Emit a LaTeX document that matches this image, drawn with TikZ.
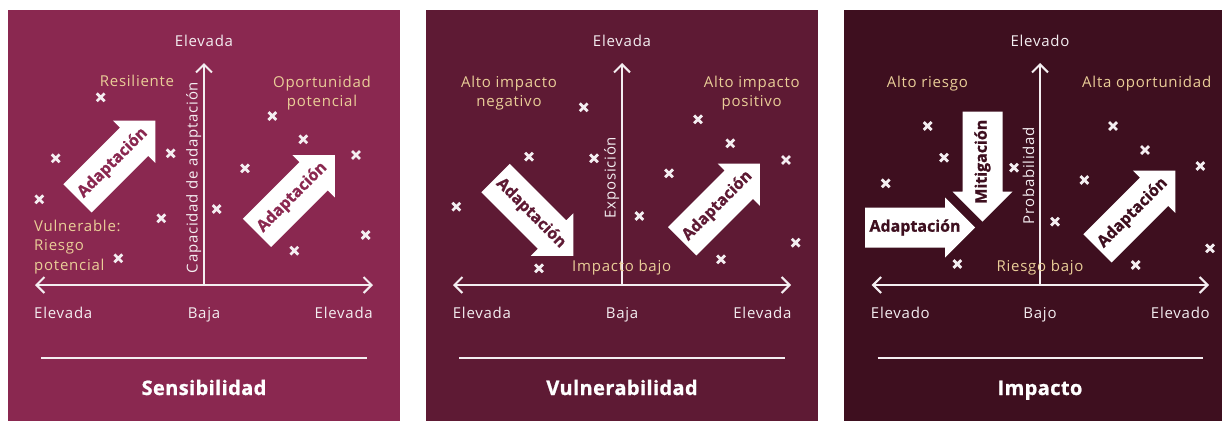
\documentclass[tikz,border=0pt]{standalone}
\usepackage{fontspec}
\setmainfont{Open Sans}
\newfontfamily\lblfont{Open Sans}[LetterSpace=5]
\newfontfamily\ttlfont{Open Sans}[LetterSpace=2, BoldFeatures={FakeBold=1}]
\newfontfamily\arrfont{Open Sans}[BoldFeatures={FakeBold=1}]
\usetikzlibrary{arrows.meta,shapes.misc}
\definecolor{pA}{HTML}{8A2850}
\definecolor{pB}{HTML}{5E1A34}
\definecolor{pC}{HTML}{3E0F1F}
\definecolor{beige}{HTML}{EACE98}
\definecolor{offw}{HTML}{F4EEF1}
\tikzset{
  lbl/.style={text=offw, font=\lblfont\fontsize{15}{17}\selectfont, inner sep=0, anchor=base},
  qlbl/.style={text=beige, font=\lblfont\fontsize{15}{17}\selectfont, inner sep=0, anchor=base},
  ttl/.style={text=white, font=\ttlfont\bfseries\fontsize{20}{22}\selectfont, inner sep=0, anchor=base},
  axisline/.style={draw=offw, line width=2pt},
  barb/.style={-{Straight Barb[length=8pt,width=16pt]}},
  dbarb/.style={{Straight Barb[length=8pt,width=16pt]}-{Straight Barb[length=8pt,width=16pt]}},
  rule/.style={draw=offw, line width=2pt},
  xmk/.style={cross out, draw=offw, line width=2.8pt, minimum size=5pt, inner sep=0},
  arrtxt/.style={font=\arrfont\bfseries\fontsize{16}{18}\selectfont, inner sep=0, transform shape},
}
\newcommand{\blkarrow}[6]{%
  \begin{scope}[shift={#2}, rotate=#3]
    \fill[white] (0,-20) -- (80,-20) -- (80,-30) -- (110,0) -- (80,30) -- (80,20) -- (0,20) -- cycle;
    \node[arrtxt, text=#5, rotate=#6] (#1) at (50,0) {#4};
  \end{scope}}
\begin{document}
\begin{tikzpicture}[x=1pt, y=-1pt]
\useasboundingbox (0,0) rectangle (1222,421);
\fill[white] (0,0) rectangle (1222,421);
\fill[pA] (8,10) rectangle (400,421);
\fill[pB] (426,10) rectangle (818,421);
\fill[pC] (844,10) rectangle (1222,421);

% ---------- Panel 1 ----------
\coordinate (o1) at (204,285);
\coordinate (t1) at (204,63);
\coordinate (l1) at (35,285);
\coordinate (r1) at (373,285);
\coordinate (ra1) at (41,358);
\coordinate (rb1) at (367,358);
\draw[axisline, barb] (o1) -- (t1);
\draw[axisline, dbarb] (l1) -- (r1);
\draw[rule] (ra1) -- (rb1);
\node[lbl] (e1t) at (204,46.7) {Elevada};
\node[lbl, anchor=base west] (e1l) at (34,318.3) {Elevada};
\node[lbl] (b1) at (204,318.3) {Baja};
\node[lbl, anchor=base east] (e1r) at (373,318.3) {Elevada};
\node[ttl] (T1) at (204,395) {Sensibilidad};
\node[lbl, rotate=90] (v1) at (197.5,177.5) {Capacidad de adaptación};
\node[qlbl] (q1a) at (137,86.7) {Resiliente};
\node[qlbl] (q1b) at (322,87.3) {Oportunidad};
\node[qlbl] (q1c) at (322,106.7) {potencial};
\node[qlbl, anchor=base west] (q1d) at (34,231.7) {Vulnerable:};
\node[qlbl, anchor=base west] (q1e) at (34,250.7) {Riesgo};
\node[qlbl, anchor=base west] (q1f) at (34,270) {potencial};
\foreach \p [count=\i] in {(100.7,97.3),(55.7,158.3),(39.3,199.3),(170.7,153.3),(161.3,218.3),(118.3,258.3),(216.7,209),(245,168.3),(272.3,116),(303.3,139.3),(356,155),(365.7,235),(294.3,250.7)}
  \node[xmk] (x1-\i) at \p {};
\blkarrow{a1a}{(77.5,198.3)}{45}{Adaptación}{pA}{0}
\blkarrow{a1b}{(257,232.8)}{45}{Adaptación}{pA}{0}

% ---------- Panel 2 ----------
\coordinate (o2) at (622,285);
\coordinate (t2) at (622,63);
\coordinate (l2) at (453,285);
\coordinate (r2) at (791,285);
\coordinate (ra2) at (459,358);
\coordinate (rb2) at (785,358);
\draw[axisline, barb] (o2) -- (t2);
\draw[axisline, dbarb] (l2) -- (r2);
\draw[rule] (ra2) -- (rb2);
\node[lbl] (e2t) at (622,46.7) {Elevada};
\node[lbl, anchor=base west] (e2l) at (452.7,318.3) {Elevada};
\node[lbl] (b2) at (622,318.3) {Baja};
\node[lbl, anchor=base east] (e2r) at (791.7,318.3) {Elevada};
\node[ttl] (T2) at (622,395) {Vulnerabilidad};
\node[lbl, rotate=90] (v2) at (615.5,177.5) {Exposición};
\node[qlbl] (q2a) at (509,87.3) {Alto impacto};
\node[qlbl] (q2b) at (509,106.7) {negativo};
\node[qlbl] (q2c) at (751.7,87.3) {Alto impacto};
\node[qlbl] (q2d) at (751.7,106.7) {positivo};
\node[qlbl] (q2e) at (621.7,271) {Impacto bajo};
\foreach \p [count=\i] in {(583.7,107.3),(529,156.7),(594,158.3),(456.3,206.7),(539,268.3),(639.3,216),(669,173.3),(698,119.3),(730.3,143.3),(786,160),(795.7,242.7),(721,259.3)}
  \node[xmk] (x2-\i) at \p {};
\blkarrow{a2a}{(495.5,178)}{-45}{Adaptación}{pB}{0}
\blkarrow{a2b}{(682.2,241.3)}{45}{Adaptación}{pB}{0}

% ---------- Panel 3 ----------
\coordinate (o3) at (1040,285);
\coordinate (t3) at (1040,63);
\coordinate (l3) at (871.7,285);
\coordinate (r3) at (1209,285);
\coordinate (ra3) at (877.7,358);
\coordinate (rb3) at (1203.3,358);
\draw[axisline, barb] (o3) -- (t3);
\draw[axisline, dbarb] (l3) -- (r3);
\draw[rule] (ra3) -- (rb3);
\node[lbl] (e3t) at (1040,46.7) {Elevado};
\node[lbl, anchor=base west] (e3l) at (870.7,318.3) {Elevado};
\node[lbl] (b3) at (1040,318.3) {Bajo};
\node[lbl, anchor=base east] (e3r) at (1210,318.3) {Elevado};
\node[ttl] (T3) at (1040,395) {Impacto};
\node[lbl, rotate=90] (v3) at (1034,175.5) {Probabilidad};
\node[qlbl] (q3a) at (927.3,87.3) {Alto riesgo};
\node[qlbl] (q3b) at (1146.7,87.3) {Alta oportunidad};
\node[qlbl] (q3c) at (1040,271) {Riesgo bajo};
\foreach \p [count=\i] in {(927.7,126),(944,157.7),(885.7,183.3),(1014,167.7),(957.3,264),(1055,221.7),(1084.3,180),(1113,126),(1145,150),(1200.3,166),(1210,248.3),(1135.7,265)}
  \node[xmk] (x3-\i) at \p {};
\blkarrow{a3a}{(865,227.5)}{0}{Adaptación}{pC}{0}
\blkarrow{a3m}{(982.5,111.7)}{-90}{Mitigación}{pC}{180}
\blkarrow{a3b}{(1097.5,248.3)}{45}{Adaptación}{pC}{0}
\end{tikzpicture}
\end{document}
